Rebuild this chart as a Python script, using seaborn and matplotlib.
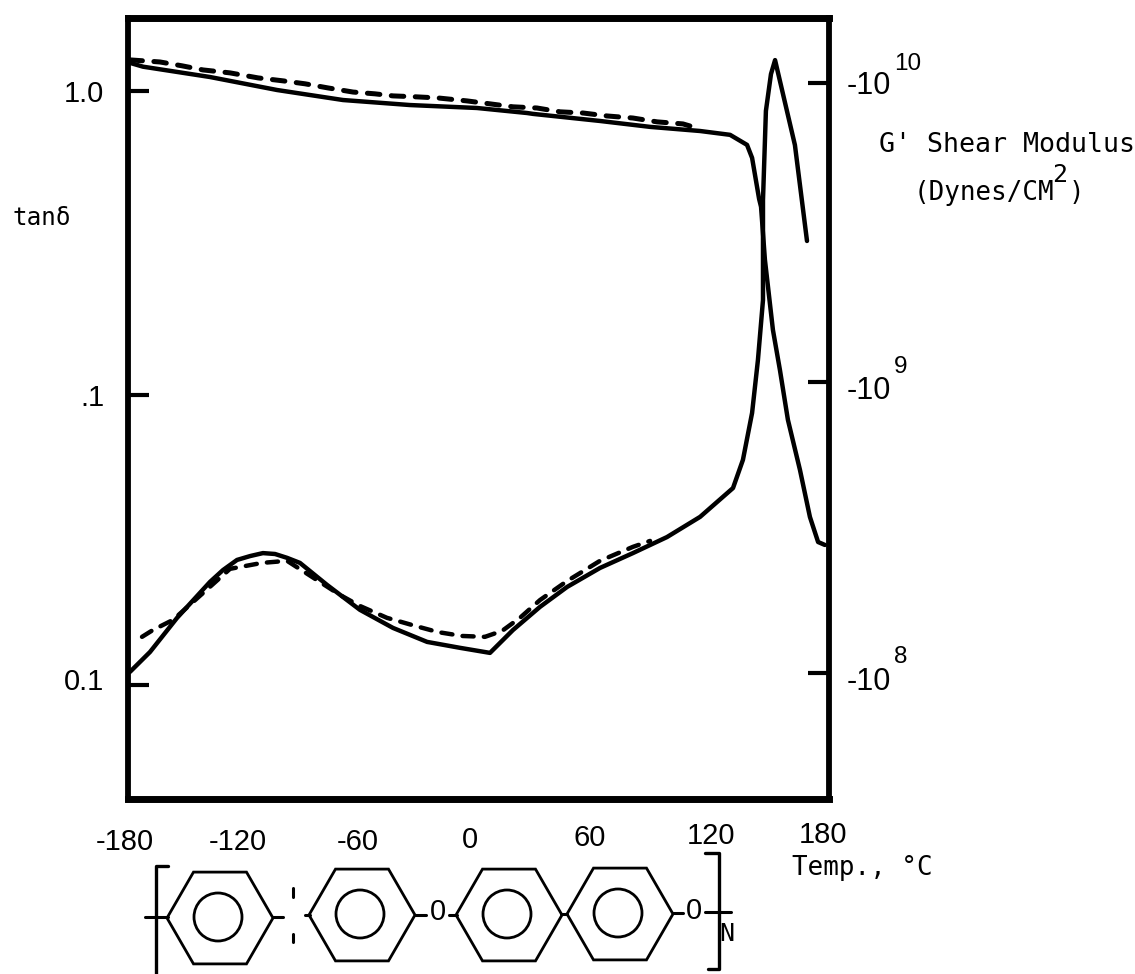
"""Dynamic mechanical plot: tan delta and G' against temperature, with the repeat unit below."""

import matplotlib.pyplot as plt
import numpy as np
import seaborn as sns
from matplotlib.patches import Circle, RegularPolygon
from matplotlib.transforms import ScaledTranslation

# G' curves (right axis), log10 of dynes/cm2
gprime_temp = [-179.0, -172.3, -137.9, -103.5, -69.6, -35.2, -0.8, 24.9, 28.0, 62.4, 88.1, 113.8,
               129.2, 137.9, 140.5, 144.1, 145.1, 147.1, 151.2, 154.8, 158.9, 165.1, 170.2, 174.4, 177.9]
gprime_solid = [10.068, 10.055, 10.020, 9.976, 9.942, 9.925, 9.915, 9.898, 9.895, 9.871, 9.851, 9.837,
                9.824, 9.790, 9.746, 9.607, 9.580, 9.400, 9.163, 9.027, 8.858, 8.688, 8.529, 8.444, 8.434]
gprime_dash_temp = [-179.0, -163.6, -152.3, -141.5, -127.6, -113.2, -100.4, -89.1, -77.3, -64.4, -53.2,
                    -43.9, -32.6, -20.8, -5.9, 5.9, 17.7, 30.0, 41.9, 53.7, 66.0, 79.3, 91.7, 105.0, 112.2]
gprime_dash = [10.078, 10.071, 10.058, 10.044, 10.034, 10.017, 10.007, 9.997, 9.983, 9.969, 9.963,
               9.956, 9.953, 9.949, 9.939, 9.929, 9.919, 9.915, 9.902, 9.898, 9.888, 9.881, 9.868, 9.861, 9.847]

# tan delta curves (left axis), log10
tan_temp = [-179.0, -168.7, -154.8, -137.9, -131.2, -124.0, -117.3, -110.7, -104.5, -98.3, -91.7, -77.8,
            -60.9, -43.9, -26.4, -9.5, 5.9, 17.7, 31.6, 45.5, 62.4, 79.3, 96.8, 113.8, 130.7, 135.8,
            140.5, 143.5, 146.1, 146.1, 146.1, 147.6, 150.2, 152.3, 162.5, 168.7]
tan_solid = [-1.956, -1.889, -1.774, -1.653, -1.613, -1.579, -1.566, -1.556, -1.559, -1.572, -1.589, -1.663,
             -1.747, -1.808, -1.855, -1.875, -1.892, -1.815, -1.737, -1.670, -1.606, -1.556, -1.502, -1.434,
             -1.337, -1.242, -1.084, -0.906, -0.704, -0.569, -0.367, -0.067, 0.057, 0.104, -0.182, -0.505]
tan_dash_temp = [-172.8, -167.2, -156.9, -127.6, -111.2, -98.3, -71.1, -60.9, -47.0, -32.6, -20.8,
                 -8.5, 3.3, 12.1, 21.3, 31.6, 45.5, 62.4, 79.3, 88.1]
tan_dash = [-1.838, -1.815, -1.781, -1.609, -1.589, -1.582, -1.697, -1.734, -1.774, -1.801, -1.822,
            -1.835, -1.838, -1.818, -1.774, -1.714, -1.650, -1.582, -1.535, -1.515]

# ticks as they sit on the original sheet (not quite evenly spaced)
x_ticks = [-121.5, -62.9, -3.3, 57.8, 119.9]
x_labels = ["-120", "-60", "0", "60", "120"]
left_ticks = [1.0, 0.0947, 0.01]
left_labels = ["1.0", ".1", "0.1"]
right_ticks = [1e10, 9.7e8, 1e8]
right_labels = ["-10", "-10", "-10"]
right_exponents = ["10", "9", "8"]

DIGITS = "Liberation Sans"
WORDS = "DejaVu Sans Mono"
W, H = 1135, 974

sns.set_theme(style="white")
plt.rcParams["font.family"] = [DIGITS, "DejaVu Sans"]

fig = plt.figure(figsize=(W / 100, H / 100), dpi=100, facecolor="white")
ax = fig.add_axes([128 / W, 1 - 799 / H, (829 - 128) / W, (799 - 18) / H])
ax2 = ax.twinx()

ax.set_xlim(-180, 180)
ax.set_yscale("log")
ax.set_ylim(10 ** -2.384, 10 ** 0.2458)
ax2.set_yscale("log")
ax2.set_ylim(10 ** 7.573, 10 ** 10.22)

DASH = (0, (2.5, 2.3))
sns.lineplot(x=tan_temp, y=10 ** np.array(tan_solid), ax=ax, color="black", linewidth=3.2,
             sort=False, estimator=None, solid_joinstyle="round")
sns.lineplot(x=tan_dash_temp, y=10 ** np.array(tan_dash), ax=ax, color="black", linewidth=3.2,
             sort=False, estimator=None, linestyle=DASH, dash_capstyle="round")
sns.lineplot(x=gprime_temp, y=10 ** np.array(gprime_solid), ax=ax2, color="black", linewidth=3.2,
             sort=False, estimator=None, solid_joinstyle="round")
sns.lineplot(x=gprime_dash_temp, y=10 ** np.array(gprime_dash), ax=ax2, color="black", linewidth=3.6,
             sort=False, estimator=None, linestyle=DASH, dash_capstyle="round")

for spine, lw in zip(["left", "top", "bottom"], [4.2, 5, 5]):
    ax.spines[spine].set_linewidth(lw)
    ax.spines[spine].set_color("black")
ax.spines["right"].set_visible(False)
for spine in ["left", "top", "bottom"]:
    ax2.spines[spine].set_visible(False)
ax2.spines["right"].set_linewidth(4.2)
ax2.spines["right"].set_color("black")

ax.set_xticks(x_ticks, x_labels)
ax.set_yticks(left_ticks, left_labels)
ax2.set_yticks(right_ticks, right_labels)
ax.minorticks_off()
ax2.minorticks_off()
ax.tick_params(axis="x", direction="in", length=13, width=3, pad=19, labelsize=21, color="black", labelcolor="black")
ax.tick_params(axis="y", direction="in", length=15, width=3, pad=17, labelsize=21, color="black", labelcolor="black")
ax2.tick_params(axis="y", direction="in", length=15, width=3, pad=13, labelsize=22, color="black", labelcolor="black")


def shift_label(tick, dx, dy):
    # the typed labels on the sheet sit a bit off their tick marks
    off = ScaledTranslation(dx / 100, dy / 100, fig.dpi_scale_trans)
    tick.label1.set_transform(tick.label1.get_transform() + off)


for tick, dx, dy in zip(ax.xaxis.get_major_ticks(), [-4, 2, -2, -1, -1], [-3, -3, -1, 1, 3]):
    shift_label(tick, dx, dy)
shift_label(ax.yaxis.get_major_ticks()[2], 0, 6)
for tick, dy in zip(ax2.yaxis.get_major_ticks(), [0, -6, -5]):
    off = ScaledTranslation(0, dy / 100, fig.dpi_scale_trans)
    tick.label2.set_transform(tick.label2.get_transform() + off)

# overlay in pixel coordinates for the loose text and the repeat unit
over = fig.add_axes([0, 0, 1, 1], facecolor="none")
over.set_xlim(0, W)
over.set_ylim(H, 0)
over.axis("off")

digit_style = {"color": "black", "va": "center", "family": DIGITS}
word_style = {"color": "black", "va": "center", "family": [WORDS, "DejaVu Sans"]}
over.text(125, 842, "-180", fontsize=21, ha="center", **digit_style)
over.text(823, 835, "180", fontsize=21, ha="center", **digit_style)
for label, py in zip(right_exponents, [64, 367, 657]):
    over.text(894, py, label, fontsize=17.5, ha="left", **digit_style)

over.text(792, 868, "Temp., °C", fontsize=18.6, ha="left", **word_style)
over.text(879, 145, "G' Shear Modulus", fontsize=19.2, ha="left", **word_style)
over.text(914, 193, "(Dynes/CM", fontsize=18.6, ha="left", **word_style)
over.text(1052, 175, "2", fontsize=18, ha="left", **word_style)
over.text(1069, 193, ")", fontsize=18.6, ha="left", **word_style)
over.text(13, 218, "tanδ", fontsize=17.5, ha="left", **word_style)
over.text(438, 912, "0", fontsize=21, ha="center", **digit_style)
over.text(694, 911, "0", fontsize=21, ha="center", **digit_style)
over.text(727, 934, "N", fontsize=18, ha="center", **word_style)

hex_centres = [(220, 918), (362, 915), (509, 915), (620, 914)]
for cx, cy in hex_centres:
    over.add_patch(RegularPolygon((cx, cy), 6, radius=53, orientation=np.pi / 6, fill=False,
                                  edgecolor="black", linewidth=2))
    over.add_patch(Circle((cx - 2, cy - 1), 24, fill=False, edgecolor="black", linewidth=2))

bonds = [((145, 168), (917, 917)), ((273, 283), (917, 917)), ((305, 310), (915, 915)),
         ((415, 426), (915, 915)), ((449, 457), (915, 915)), ((561, 567), (914, 914)),
         ((673, 683), (913, 913)), ((705, 731), (912, 912)),
         ((293, 293), (888, 897)), ((293, 293), (934, 942))]
for xs, ys in bonds:
    over.plot(xs, ys, color="black", linewidth=2.2)

over.plot([168, 156, 156], [866, 866, 974], color="black", linewidth=2.4)
over.plot([705, 719, 719, 708], [853, 853, 969, 969], color="black", linewidth=2.4)

fig.savefig("out.png", dpi=100)
